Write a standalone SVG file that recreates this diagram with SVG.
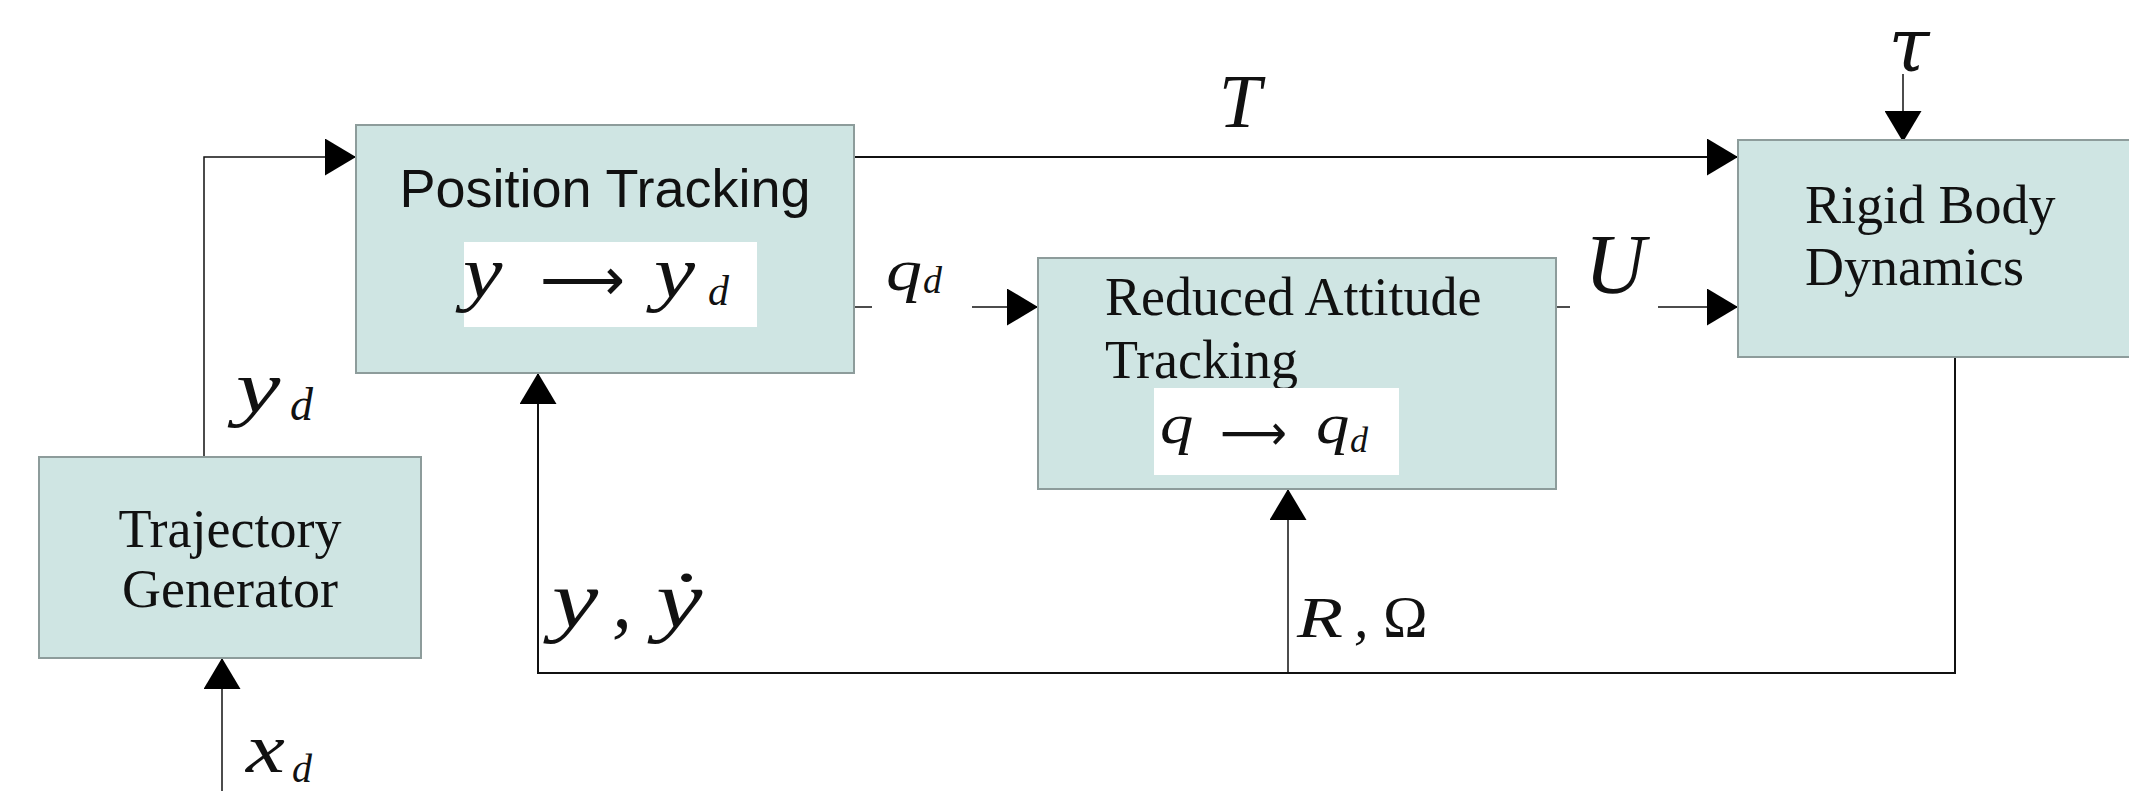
<svg xmlns="http://www.w3.org/2000/svg" width="2129" height="791" viewBox="0 0 2129 791">
  <style>
    .box { fill: #cfe5e3; stroke: #8d9c9b; stroke-width: 2; }
    .pane { fill: #ffffff; }
    .wire { fill: none; stroke: #111; stroke-width: 2; }
    .thin { fill: none; stroke: #111; stroke-width: 1.5; }
    .sans { font-family: "Liberation Sans", Arial, sans-serif; fill: #111; }
    .serif { font-family: "Liberation Serif", "Times New Roman", serif; fill: #111; }
    .math { font-family: "Liberation Serif", "DejaVu Serif", serif; font-style: italic; fill: #111; }
    .up { font-style: normal; }
    .arr { font-family: "DejaVu Sans", sans-serif; fill: #111; }
  </style>
  <defs>
    <marker id="head" markerUnits="userSpaceOnUse" markerWidth="31" markerHeight="37" refX="31" refY="18.5" orient="auto">
      <path d="M0,0 L31,18.5 L0,37 z" fill="#000"/>
    </marker>
  </defs>
  <rect width="2129" height="791" fill="#fff"/>

  <!-- connectors -->
  <g id="connectors">
    <path class="thin" d="M204,457 V157 H356" marker-end="url(#head)"/>
    <path class="thin" d="M222,791 V658" marker-end="url(#head)"/>
    <path class="wire" d="M854,157 H1738" marker-end="url(#head)"/>
    <path class="thin" d="M854,307 H872"/>
    <path class="thin" d="M972,307 H1038" marker-end="url(#head)"/>
    <path class="thin" d="M1556,307 H1570"/>
    <path class="thin" d="M1658,307 H1738" marker-end="url(#head)"/>
    <path class="thin" d="M1903,74 V142" marker-end="url(#head)"/>
    <path class="wire" d="M1955,357 V673 H538 V373" marker-end="url(#head)"/>
    <path class="thin" d="M1288,673 V489" marker-end="url(#head)"/>
  </g>

  <!-- signal labels (math glyphs widened slightly for a TeX-like look) -->
  <g id="labels">
    <text class="math" x="1240" y="127" font-size="76" text-anchor="middle">T</text>
    <text x="1909" y="71" font-size="74" text-anchor="middle" font-family="'DejaVu Serif', serif" font-style="italic" fill="#111">τ</text>
    <text class="math" x="1615" y="293" font-size="84" text-anchor="middle">U</text>
    <text class="math" transform="translate(886,290) scale(1.2,1)" font-size="60">q</text>
    <text class="math" x="923" y="293" font-size="38">d</text>
    <text class="math" transform="translate(236,412) scale(1.35,1)" font-size="74">y</text>
    <text class="math" x="290" y="420" font-size="46">d</text>
    <text class="math" transform="translate(552,627) scale(1.3,1)" font-size="80">y</text>
    <text class="math" x="612" y="627" font-size="80">,</text>
    <text class="math" transform="translate(656,627) scale(1.3,1)" font-size="80">ẏ</text>
    <text class="math" transform="translate(1297,637) scale(1.3,1)" font-size="58">R</text>
    <text class="math" x="1354" y="637" font-size="58">,</text>
    <text class="math up" x="1383" y="637" font-size="60">Ω</text>
    <text class="math" transform="translate(246,772) scale(1.25,1)" font-size="70">x</text>
    <text class="math" x="292" y="782" font-size="40">d</text>
  </g>

  <!-- trajectory generator -->
  <g id="trajectory-generator">
    <rect class="box" x="39" y="457" width="382" height="201"/>
    <text class="serif" x="230" y="547" font-size="54" text-anchor="middle">Trajectory</text>
    <text class="serif" x="230" y="607" font-size="54" text-anchor="middle">Generator</text>
  </g>

  <!-- position tracking -->
  <g id="position-tracking">
    <rect class="box" x="356" y="125" width="498" height="248"/>
    <text class="sans" x="605" y="207" font-size="54" text-anchor="middle">Position Tracking</text>
    <rect class="pane" x="464" y="242" width="293" height="85"/>
    <text class="math" transform="translate(463,297) scale(1.2,1)" font-size="74">y</text>
    <text class="arr" x="540" y="300" font-size="60" textLength="85" lengthAdjust="spacingAndGlyphs">⟶</text>
    <text class="math" transform="translate(654,297) scale(1.25,1)" font-size="74">y</text>
    <text class="math" x="708" y="305" font-size="42">d</text>
  </g>

  <!-- reduced attitude tracking -->
  <g id="reduced-attitude-tracking">
    <rect class="box" x="1038" y="258" width="518" height="231"/>
    <text class="serif" x="1105" y="315" font-size="54">Reduced Attitude</text>
    <text class="serif" x="1105" y="378" font-size="54">Tracking</text>
    <rect class="pane" x="1154" y="388" width="245" height="87"/>
    <text class="math" transform="translate(1160,443) scale(1.15,1)" font-size="58">q</text>
    <text class="arr" x="1220" y="450" font-size="50" textLength="67" lengthAdjust="spacingAndGlyphs">⟶</text>
    <text class="math" transform="translate(1316,443) scale(1.15,1)" font-size="58">q</text>
    <text class="math" x="1350" y="452" font-size="36">d</text>
  </g>

  <!-- rigid body dynamics -->
  <g id="rigid-body-dynamics">
    <rect class="box" x="1738" y="140" width="420" height="217"/>
    <text class="serif" x="1805" y="223" font-size="54">Rigid Body</text>
    <text class="serif" x="1805" y="285" font-size="54">Dynamics</text>
  </g>
</svg>
